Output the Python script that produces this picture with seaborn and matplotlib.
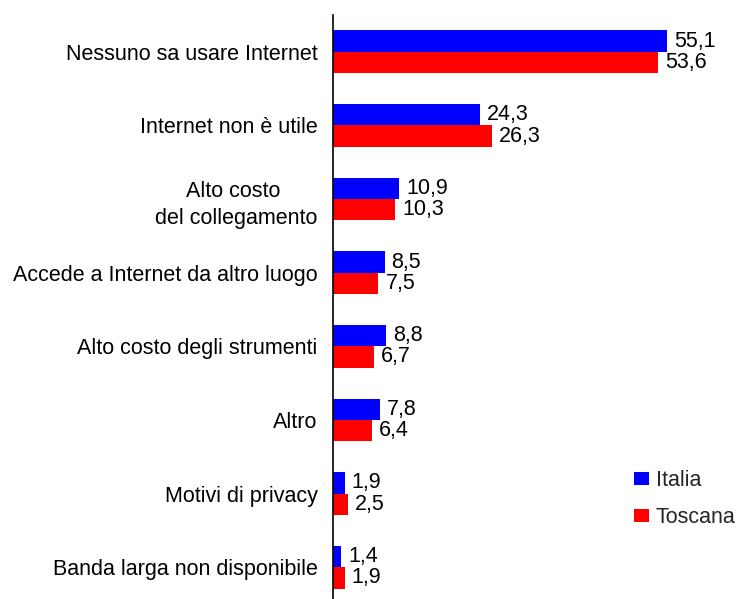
import matplotlib
matplotlib.use("Agg")
import matplotlib.pyplot as plt
import seaborn as sns
import pandas as pd
from matplotlib.patches import Patch

categories = [
    "Nessuno sa usare Internet",
    "Internet non è utile",
    "Alto costo \ndel collegamento",
    "Accede a Internet da altro luogo",
    "Alto costo degli strumenti",
    "Altro",
    "Motivi di privacy",
    "Banda larga non disponibile",
]
italia = [55.1, 24.3, 10.9, 8.5, 8.8, 7.8, 1.9, 1.4]
toscana = [53.6, 26.3, 10.3, 7.5, 6.7, 6.4, 2.5, 1.9]
series = ["Italia", "Toscana"]
colors = ["#0000FF", "#FF0000"]

df = pd.DataFrame({
    "cat": categories * 2,
    "val": italia + toscana,
    "serie": [series[0]] * len(categories) + [series[1]] * len(categories),
})

sns.set_theme(style="white")
plt.rcParams["font.family"] = ["Liberation Sans", "DejaVu Sans"]
FS = 15.5

fig = plt.figure(figsize=(7.39, 5.99), dpi=100)
ax = fig.add_axes([333 / 739, (599 - 604) / 599, (739 - 333) / 739, (604 - 15) / 599])

sns.barplot(data=df, y="cat", x="val", hue="serie", palette=colors,
            order=categories, hue_order=series, width=0.58, orient="h",
            saturation=1, ax=ax, legend=False, errorbar=None, linewidth=0)

ax.set_xlim(0, 67)
ax.set_ylim(len(categories) - 0.5, -0.5)
ax.set_xlabel("")
ax.set_ylabel("")
ax.set_xticks([])
for s in ["top", "right", "bottom"]:
    ax.spines[s].set_visible(False)
ax.spines["left"].set_color("black")
ax.spines["left"].set_linewidth(1.2)
ax.tick_params(axis="y", length=0, pad=11, labelsize=FS)
for lbl in ax.get_yticklabels():
    lbl.set_multialignment("center")
    lbl.set_linespacing(1.4)
    lbl.set_color("black")

for cont in ax.containers:
    labels = [f"{v:.1f}".replace(".", ",") for v in cont.datavalues]
    ax.bar_label(cont, labels=labels, padding=5, fontsize=FS, color="black")

handles = [Patch(facecolor=c, edgecolor="none", label=s) for s, c in zip(series, colors)]
fig.legend(handles=handles, loc="upper left", bbox_to_anchor=(634 / 739, 1 - 470 / 599),
           frameon=False, fontsize=FS, handlelength=0.7, handleheight=0.6,
           handletextpad=0.3, labelspacing=0.75, borderpad=0, borderaxespad=0)

fig.savefig("out.png", dpi=100)
